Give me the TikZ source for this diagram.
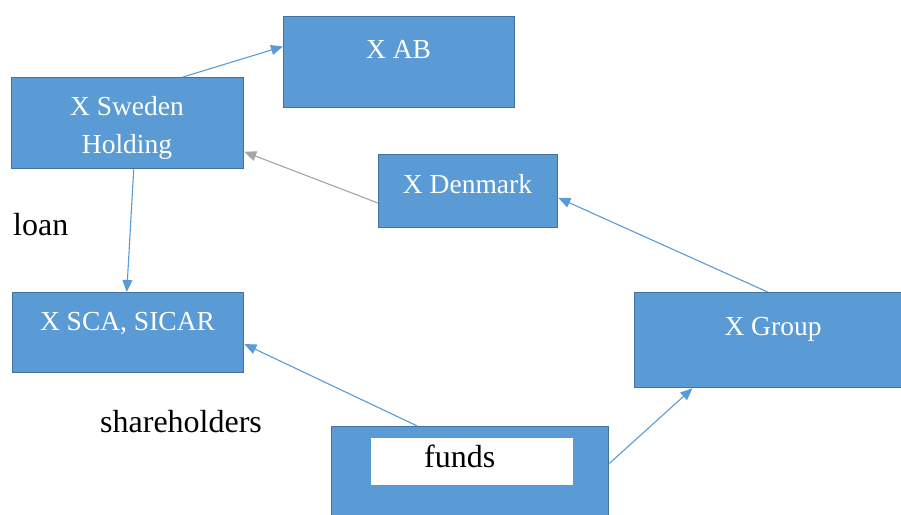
\documentclass[tikz,border=0pt]{standalone}
\usepackage{fontspec}
\setmainfont{Liberation Serif}
\usetikzlibrary{arrows.meta,calc}

\definecolor{boxfill}{HTML}{5B9BD5}
\definecolor{boxedge}{HTML}{41719C}
\definecolor{linkblue}{HTML}{5B9BD5}
\definecolor{linkgray}{HTML}{A5A5A5}

\tikzset{
  entity/.style={rectangle, draw=boxedge, fill=boxfill, line width=1.3pt,
                 inner sep=0pt, anchor=north west},
  boxlabel/.style={text=white, font=\fontsize{27.5}{33}\selectfont,
                   inner sep=0pt, anchor=base},
  plainlabel/.style={text=black, font=\fontsize{32}{38}\selectfont,
                     inner sep=0pt, anchor=base west},
  link/.style={draw=linkblue, line width=1.1pt,
               -{Triangle[length=12pt,width=10pt]}},
  graylink/.style={draw=linkgray, line width=1.1pt,
                   -{Triangle[length=12pt,width=10pt]}}
}

\begin{document}
\begin{tikzpicture}[x=1pt,y=-1pt]
\useasboundingbox (0,0) rectangle (901,514);

% company boxes
\node[entity, minimum width=231pt, minimum height=91pt] (ab) at (283,16) {};
\node[entity, minimum width=232pt, minimum height=91pt] (sweden) at (11,77) {};
\node[entity, minimum width=179pt, minimum height=73pt] (denmark) at (378,154) {};
\node[entity, minimum width=231pt, minimum height=80pt] (sca) at (12,292) {};
\node[entity, minimum width=277pt, minimum height=95pt] (group) at (634,292) {};
\node[entity, minimum width=277pt, minimum height=100pt] (fundsbox) at (331,426) {};
\node[rectangle, fill=white, inner sep=0pt, anchor=north west,
      minimum width=202pt, minimum height=47pt] (fundsfield) at (371,438) {};

% box texts
\node[boxlabel] (abtxt) at (398.5,58) {X AB};
\node[boxlabel] (swtxta) at (127,115) {X Sweden};
\node[boxlabel] (swtxtb) at (127,153) {Holding};
\node[boxlabel] (dktxt) at (467.5,193) {X Denmark};
\node[boxlabel] (scatxt) at (127.5,330) {X SCA, SICAR};
\node[boxlabel] (grtxt) at (773,335) {X Group};
\node[plainlabel] (fundstxt) at (424,467) {funds};

% free labels
\node[plainlabel] (loan) at (13,235) {loan};
\node[plainlabel] (holders) at (100,432) {shareholders};

% ownership links
\draw[link] ($(sweden.north west)!0.737!(sweden.north east)$)
         -- ($(ab.north west)!0.33!(ab.south west)$);
\draw[link] ($(sweden.south west)!0.526!(sweden.south east)$)
         -- ($(sca.north west)!0.494!(sca.north east)$);
\draw[graylink] ($(denmark.north west)!0.66!(denmark.south west)$)
         -- ($(sweden.north east)!0.81!(sweden.south east)$);
\draw[link] ($(group.north west)!0.48!(group.north east)$)
         -- ($(denmark.north east)!0.59!(denmark.south east)$);
\draw[link] ($(fundsbox.north west)!0.31!(fundsbox.north east)$)
         -- ($(sca.north east)!0.64!(sca.south east)$);
\draw[link] ($(fundsbox.north east)!0.37!(fundsbox.south east)$)
         -- ($(group.south west)!0.21!(group.south east)$);
\end{tikzpicture}
\end{document}
